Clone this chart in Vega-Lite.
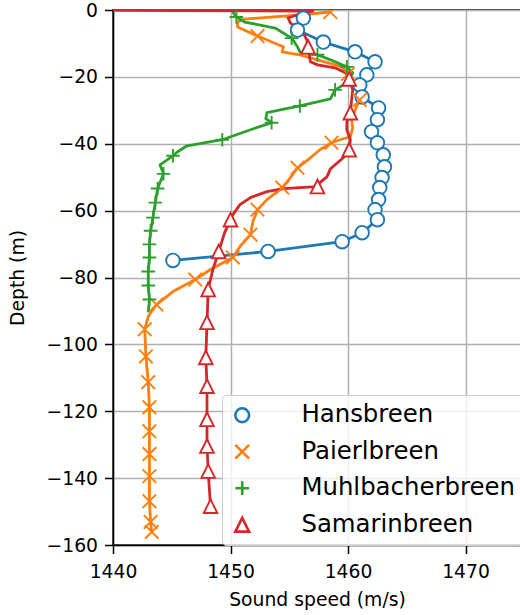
{
  "$schema": "https://vega.github.io/schema/vega-lite/v6.json",
  "width": 408,
  "height": 535,
  "autosize": {"type": "none"},
  "padding": {"left": 113, "top": 10, "right": 0, "bottom": 70},
  "background": "white",
  "config": {
    "font": "DejaVu Sans",
    "view": {"stroke": "black", "strokeWidth": 1.5},
    "axis": {
      "grid": true, "gridColor": "#b0b0b0", "gridWidth": 1.5,
      "domainColor": "black", "domainWidth": 1.5,
      "tickColor": "black", "tickWidth": 1.5, "tickSize": 8.5,
      "labelFont": "DejaVu Sans", "labelFontSize": 18.75, "labelColor": "black",
      "titleFont": "DejaVu Sans", "titleFontSize": 18.75, "titleFontWeight": "normal", "titleColor": "black",
      "labelFlush": false
    },
    "legend": {"labelFont": "DejaVu Sans"}
  },
  "datasets": {
    "profiles": [
      {"glacier": "Hansbreen", "speed": 1456.2, "depth": -2.4},
      {"glacier": "Hansbreen", "speed": 1455.7, "depth": -6.0},
      {"glacier": "Hansbreen", "speed": 1457.9, "depth": -9.6},
      {"glacier": "Hansbreen", "speed": 1460.6, "depth": -12.5},
      {"glacier": "Hansbreen", "speed": 1462.3, "depth": -15.5},
      {"glacier": "Hansbreen", "speed": 1461.6, "depth": -19.4},
      {"glacier": "Hansbreen", "speed": 1461.0, "depth": -22.4},
      {"glacier": "Hansbreen", "speed": 1461.2, "depth": -26.0},
      {"glacier": "Hansbreen", "speed": 1462.6, "depth": -29.3},
      {"glacier": "Hansbreen", "speed": 1462.5, "depth": -32.8},
      {"glacier": "Hansbreen", "speed": 1462.0, "depth": -36.4},
      {"glacier": "Hansbreen", "speed": 1462.5, "depth": -39.7},
      {"glacier": "Hansbreen", "speed": 1463.0, "depth": -43.3},
      {"glacier": "Hansbreen", "speed": 1463.1, "depth": -46.9},
      {"glacier": "Hansbreen", "speed": 1462.9, "depth": -50.1},
      {"glacier": "Hansbreen", "speed": 1462.7, "depth": -53.1},
      {"glacier": "Hansbreen", "speed": 1462.6, "depth": -56.7},
      {"glacier": "Hansbreen", "speed": 1462.3, "depth": -59.7},
      {"glacier": "Hansbreen", "speed": 1462.5, "depth": -62.7},
      {"glacier": "Hansbreen", "speed": 1461.2, "depth": -66.6},
      {"glacier": "Hansbreen", "speed": 1459.5, "depth": -69.3},
      {"glacier": "Hansbreen", "speed": 1453.2, "depth": -72.2},
      {"glacier": "Hansbreen", "speed": 1445.1, "depth": -74.9},

      {"glacier": "Paierlbreen", "speed": 1458.5, "depth": -0.6},
      {"glacier": "Paierlbreen", "speed": 1455.9, "depth": -1.5},
      {"glacier": "Paierlbreen", "speed": 1451.2, "depth": -2.7},
      {"glacier": "Paierlbreen", "speed": 1450.6, "depth": -3.6},
      {"glacier": "Paierlbreen", "speed": 1450.6, "depth": -5.1},
      {"glacier": "Paierlbreen", "speed": 1452.3, "depth": -7.8},
      {"glacier": "Paierlbreen", "speed": 1454.5, "depth": -11.0},
      {"glacier": "Paierlbreen", "speed": 1454.4, "depth": -12.5},
      {"glacier": "Paierlbreen", "speed": 1455.9, "depth": -13.4},
      {"glacier": "Paierlbreen", "speed": 1457.4, "depth": -14.9},
      {"glacier": "Paierlbreen", "speed": 1459.5, "depth": -17.0},
      {"glacier": "Paierlbreen", "speed": 1460.0, "depth": -19.1},
      {"glacier": "Paierlbreen", "speed": 1460.6, "depth": -21.5},
      {"glacier": "Paierlbreen", "speed": 1460.8, "depth": -24.5},
      {"glacier": "Paierlbreen", "speed": 1461.0, "depth": -26.9},
      {"glacier": "Paierlbreen", "speed": 1460.6, "depth": -29.9},
      {"glacier": "Paierlbreen", "speed": 1460.3, "depth": -32.8},
      {"glacier": "Paierlbreen", "speed": 1460.4, "depth": -35.2},
      {"glacier": "Paierlbreen", "speed": 1460.2, "depth": -37.9},
      {"glacier": "Paierlbreen", "speed": 1459.3, "depth": -38.8},
      {"glacier": "Paierlbreen", "speed": 1458.6, "depth": -39.7},
      {"glacier": "Paierlbreen", "speed": 1457.6, "depth": -41.8},
      {"glacier": "Paierlbreen", "speed": 1456.8, "depth": -44.2},
      {"glacier": "Paierlbreen", "speed": 1455.7, "depth": -47.2},
      {"glacier": "Paierlbreen", "speed": 1455.1, "depth": -50.1},
      {"glacier": "Paierlbreen", "speed": 1454.4, "depth": -53.1},
      {"glacier": "Paierlbreen", "speed": 1453.1, "depth": -56.7},
      {"glacier": "Paierlbreen", "speed": 1452.3, "depth": -59.7},
      {"glacier": "Paierlbreen", "speed": 1451.9, "depth": -63.3},
      {"glacier": "Paierlbreen", "speed": 1451.7, "depth": -67.2},
      {"glacier": "Paierlbreen", "speed": 1450.8, "depth": -70.7},
      {"glacier": "Paierlbreen", "speed": 1450.2, "depth": -74.0},
      {"glacier": "Paierlbreen", "speed": 1449.4, "depth": -75.5},
      {"glacier": "Paierlbreen", "speed": 1448.3, "depth": -77.6},
      {"glacier": "Paierlbreen", "speed": 1447.0, "depth": -80.6},
      {"glacier": "Paierlbreen", "speed": 1445.1, "depth": -84.2},
      {"glacier": "Paierlbreen", "speed": 1443.7, "depth": -88.1},
      {"glacier": "Paierlbreen", "speed": 1443.0, "depth": -91.6},
      {"glacier": "Paierlbreen", "speed": 1442.7, "depth": -95.5},
      {"glacier": "Paierlbreen", "speed": 1442.8, "depth": -103.6},
      {"glacier": "Paierlbreen", "speed": 1443.0, "depth": -111.3},
      {"glacier": "Paierlbreen", "speed": 1443.1, "depth": -118.8},
      {"glacier": "Paierlbreen", "speed": 1443.1, "depth": -126.0},
      {"glacier": "Paierlbreen", "speed": 1443.1, "depth": -132.8},
      {"glacier": "Paierlbreen", "speed": 1443.1, "depth": -139.4},
      {"glacier": "Paierlbreen", "speed": 1443.1, "depth": -146.9},
      {"glacier": "Paierlbreen", "speed": 1443.2, "depth": -153.1},
      {"glacier": "Paierlbreen", "speed": 1443.3, "depth": -156.1},

      {"glacier": "Muhlbacherbreen", "speed": 1450.2, "depth": -0.6},
      {"glacier": "Muhlbacherbreen", "speed": 1450.5, "depth": -2.1},
      {"glacier": "Muhlbacherbreen", "speed": 1451.2, "depth": -3.6},
      {"glacier": "Muhlbacherbreen", "speed": 1453.8, "depth": -5.4},
      {"glacier": "Muhlbacherbreen", "speed": 1455.2, "depth": -8.4},
      {"glacier": "Muhlbacherbreen", "speed": 1455.7, "depth": -11.0},
      {"glacier": "Muhlbacherbreen", "speed": 1455.9, "depth": -12.5},
      {"glacier": "Muhlbacherbreen", "speed": 1457.4, "depth": -13.4},
      {"glacier": "Muhlbacherbreen", "speed": 1458.5, "depth": -14.9},
      {"glacier": "Muhlbacherbreen", "speed": 1459.9, "depth": -17.0},
      {"glacier": "Muhlbacherbreen", "speed": 1460.4, "depth": -18.8},
      {"glacier": "Muhlbacherbreen", "speed": 1460.2, "depth": -20.3},
      {"glacier": "Muhlbacherbreen", "speed": 1459.6, "depth": -22.4},
      {"glacier": "Muhlbacherbreen", "speed": 1458.9, "depth": -23.9},
      {"glacier": "Muhlbacherbreen", "speed": 1458.5, "depth": -26.6},
      {"glacier": "Muhlbacherbreen", "speed": 1455.9, "depth": -28.7},
      {"glacier": "Muhlbacherbreen", "speed": 1453.1, "depth": -30.7},
      {"glacier": "Muhlbacherbreen", "speed": 1453.0, "depth": -32.5},
      {"glacier": "Muhlbacherbreen", "speed": 1453.5, "depth": -33.7},
      {"glacier": "Muhlbacherbreen", "speed": 1451.7, "depth": -35.8},
      {"glacier": "Muhlbacherbreen", "speed": 1449.3, "depth": -38.8},
      {"glacier": "Muhlbacherbreen", "speed": 1446.3, "depth": -40.6},
      {"glacier": "Muhlbacherbreen", "speed": 1445.5, "depth": -42.4},
      {"glacier": "Muhlbacherbreen", "speed": 1445.1, "depth": -43.6},
      {"glacier": "Muhlbacherbreen", "speed": 1444.0, "depth": -46.3},
      {"glacier": "Muhlbacherbreen", "speed": 1444.3, "depth": -49.0},
      {"glacier": "Muhlbacherbreen", "speed": 1443.8, "depth": -53.4},
      {"glacier": "Muhlbacherbreen", "speed": 1443.6, "depth": -57.6},
      {"glacier": "Muhlbacherbreen", "speed": 1443.4, "depth": -62.1},
      {"glacier": "Muhlbacherbreen", "speed": 1443.2, "depth": -66.0},
      {"glacier": "Muhlbacherbreen", "speed": 1443.1, "depth": -70.1},
      {"glacier": "Muhlbacherbreen", "speed": 1443.1, "depth": -74.0},
      {"glacier": "Muhlbacherbreen", "speed": 1443.0, "depth": -78.2},
      {"glacier": "Muhlbacherbreen", "speed": 1443.0, "depth": -82.4},
      {"glacier": "Muhlbacherbreen", "speed": 1443.1, "depth": -86.6},
      {"glacier": "Muhlbacherbreen", "speed": 1443.0, "depth": -90.4},

      {"glacier": "Samarinbreen", "speed": 1430.0, "depth": 0.0},
      {"glacier": "Samarinbreen", "speed": 1457.0, "depth": -0.3},
      {"glacier": "Samarinbreen", "speed": 1455.9, "depth": -1.2},
      {"glacier": "Samarinbreen", "speed": 1454.9, "depth": -2.4},
      {"glacier": "Samarinbreen", "speed": 1455.1, "depth": -3.9},
      {"glacier": "Samarinbreen", "speed": 1455.7, "depth": -5.4},
      {"glacier": "Samarinbreen", "speed": 1456.2, "depth": -6.9},
      {"glacier": "Samarinbreen", "speed": 1456.5, "depth": -9.0},
      {"glacier": "Samarinbreen", "speed": 1456.6, "depth": -11.0},
      {"glacier": "Samarinbreen", "speed": 1456.7, "depth": -13.4},
      {"glacier": "Samarinbreen", "speed": 1456.8, "depth": -15.5},
      {"glacier": "Samarinbreen", "speed": 1457.4, "depth": -16.4},
      {"glacier": "Samarinbreen", "speed": 1458.9, "depth": -17.3},
      {"glacier": "Samarinbreen", "speed": 1459.8, "depth": -18.8},
      {"glacier": "Samarinbreen", "speed": 1460.1, "depth": -20.6},
      {"glacier": "Samarinbreen", "speed": 1460.4, "depth": -23.9},
      {"glacier": "Samarinbreen", "speed": 1460.3, "depth": -26.9},
      {"glacier": "Samarinbreen", "speed": 1460.2, "depth": -30.7},
      {"glacier": "Samarinbreen", "speed": 1459.9, "depth": -33.4},
      {"glacier": "Samarinbreen", "speed": 1459.9, "depth": -35.8},
      {"glacier": "Samarinbreen", "speed": 1460.2, "depth": -38.8},
      {"glacier": "Samarinbreen", "speed": 1460.1, "depth": -41.8},
      {"glacier": "Samarinbreen", "speed": 1459.6, "depth": -44.2},
      {"glacier": "Samarinbreen", "speed": 1459.1, "depth": -45.7},
      {"glacier": "Samarinbreen", "speed": 1458.5, "depth": -47.5},
      {"glacier": "Samarinbreen", "speed": 1458.2, "depth": -49.9},
      {"glacier": "Samarinbreen", "speed": 1457.6, "depth": -51.6},
      {"glacier": "Samarinbreen", "speed": 1457.4, "depth": -52.8},
      {"glacier": "Samarinbreen", "speed": 1455.9, "depth": -53.1},
      {"glacier": "Samarinbreen", "speed": 1454.5, "depth": -53.4},
      {"glacier": "Samarinbreen", "speed": 1453.1, "depth": -54.3},
      {"glacier": "Samarinbreen", "speed": 1451.7, "depth": -56.1},
      {"glacier": "Samarinbreen", "speed": 1450.8, "depth": -58.2},
      {"glacier": "Samarinbreen", "speed": 1450.2, "depth": -61.2},
      {"glacier": "Samarinbreen", "speed": 1450.0, "depth": -62.7},
      {"glacier": "Samarinbreen", "speed": 1449.5, "depth": -66.6},
      {"glacier": "Samarinbreen", "speed": 1449.0, "depth": -72.2},
      {"glacier": "Samarinbreen", "speed": 1448.5, "depth": -77.6},
      {"glacier": "Samarinbreen", "speed": 1448.1, "depth": -83.6},
      {"glacier": "Samarinbreen", "speed": 1448.0, "depth": -93.4},
      {"glacier": "Samarinbreen", "speed": 1447.9, "depth": -103.9},
      {"glacier": "Samarinbreen", "speed": 1448.0, "depth": -112.5},
      {"glacier": "Samarinbreen", "speed": 1448.0, "depth": -122.4},
      {"glacier": "Samarinbreen", "speed": 1448.0, "depth": -130.4},
      {"glacier": "Samarinbreen", "speed": 1448.1, "depth": -137.9},
      {"glacier": "Samarinbreen", "speed": 1448.3, "depth": -148.4},
      {"glacier": "Samarinbreen", "speed": 1448.3, "depth": -150.7}
    ],
    "markers": [
      {"glacier": "Hansbreen", "speed": 1456.2, "depth": -2.4},
      {"glacier": "Hansbreen", "speed": 1455.7, "depth": -6.0},
      {"glacier": "Hansbreen", "speed": 1457.9, "depth": -9.6},
      {"glacier": "Hansbreen", "speed": 1460.6, "depth": -12.5},
      {"glacier": "Hansbreen", "speed": 1462.3, "depth": -15.5},
      {"glacier": "Hansbreen", "speed": 1461.6, "depth": -19.4},
      {"glacier": "Hansbreen", "speed": 1461.0, "depth": -22.4},
      {"glacier": "Hansbreen", "speed": 1461.2, "depth": -26.0},
      {"glacier": "Hansbreen", "speed": 1462.6, "depth": -29.3},
      {"glacier": "Hansbreen", "speed": 1462.5, "depth": -32.8},
      {"glacier": "Hansbreen", "speed": 1462.0, "depth": -36.4},
      {"glacier": "Hansbreen", "speed": 1462.5, "depth": -39.7},
      {"glacier": "Hansbreen", "speed": 1463.0, "depth": -43.3},
      {"glacier": "Hansbreen", "speed": 1463.1, "depth": -46.9},
      {"glacier": "Hansbreen", "speed": 1462.9, "depth": -50.1},
      {"glacier": "Hansbreen", "speed": 1462.7, "depth": -53.1},
      {"glacier": "Hansbreen", "speed": 1462.6, "depth": -56.7},
      {"glacier": "Hansbreen", "speed": 1462.3, "depth": -59.7},
      {"glacier": "Hansbreen", "speed": 1462.5, "depth": -62.7},
      {"glacier": "Hansbreen", "speed": 1461.2, "depth": -66.6},
      {"glacier": "Hansbreen", "speed": 1459.5, "depth": -69.3},
      {"glacier": "Hansbreen", "speed": 1453.2, "depth": -72.2},
      {"glacier": "Hansbreen", "speed": 1445.1, "depth": -74.9},

      {"glacier": "Paierlbreen", "speed": 1458.5, "depth": -0.6},
      {"glacier": "Paierlbreen", "speed": 1452.3, "depth": -7.8},
      {"glacier": "Paierlbreen", "speed": 1460.0, "depth": -19.1},
      {"glacier": "Paierlbreen", "speed": 1461.0, "depth": -26.9},
      {"glacier": "Paierlbreen", "speed": 1458.6, "depth": -39.7},
      {"glacier": "Paierlbreen", "speed": 1455.7, "depth": -47.2},
      {"glacier": "Paierlbreen", "speed": 1454.4, "depth": -53.1},
      {"glacier": "Paierlbreen", "speed": 1452.3, "depth": -59.7},
      {"glacier": "Paierlbreen", "speed": 1451.7, "depth": -67.2},
      {"glacier": "Paierlbreen", "speed": 1450.2, "depth": -74.0},
      {"glacier": "Paierlbreen", "speed": 1447.0, "depth": -80.6},
      {"glacier": "Paierlbreen", "speed": 1443.7, "depth": -88.1},
      {"glacier": "Paierlbreen", "speed": 1442.7, "depth": -95.5},
      {"glacier": "Paierlbreen", "speed": 1442.8, "depth": -103.6},
      {"glacier": "Paierlbreen", "speed": 1443.0, "depth": -111.3},
      {"glacier": "Paierlbreen", "speed": 1443.1, "depth": -118.8},
      {"glacier": "Paierlbreen", "speed": 1443.1, "depth": -126.0},
      {"glacier": "Paierlbreen", "speed": 1443.1, "depth": -132.8},
      {"glacier": "Paierlbreen", "speed": 1443.1, "depth": -139.4},
      {"glacier": "Paierlbreen", "speed": 1443.1, "depth": -146.9},
      {"glacier": "Paierlbreen", "speed": 1443.2, "depth": -153.1},
      {"glacier": "Paierlbreen", "speed": 1443.3, "depth": -156.1},

      {"glacier": "Muhlbacherbreen", "speed": 1450.5, "depth": -2.1},
      {"glacier": "Muhlbacherbreen", "speed": 1455.2, "depth": -8.4},
      {"glacier": "Muhlbacherbreen", "speed": 1457.4, "depth": -13.4},
      {"glacier": "Muhlbacherbreen", "speed": 1459.9, "depth": -17.0},
      {"glacier": "Muhlbacherbreen", "speed": 1458.9, "depth": -23.9},
      {"glacier": "Muhlbacherbreen", "speed": 1455.9, "depth": -28.7},
      {"glacier": "Muhlbacherbreen", "speed": 1453.5, "depth": -33.7},
      {"glacier": "Muhlbacherbreen", "speed": 1449.3, "depth": -38.8},
      {"glacier": "Muhlbacherbreen", "speed": 1445.1, "depth": -43.6},
      {"glacier": "Muhlbacherbreen", "speed": 1444.3, "depth": -49.0},
      {"glacier": "Muhlbacherbreen", "speed": 1443.8, "depth": -53.4},
      {"glacier": "Muhlbacherbreen", "speed": 1443.6, "depth": -57.6},
      {"glacier": "Muhlbacherbreen", "speed": 1443.4, "depth": -62.1},
      {"glacier": "Muhlbacherbreen", "speed": 1443.2, "depth": -66.0},
      {"glacier": "Muhlbacherbreen", "speed": 1443.1, "depth": -70.1},
      {"glacier": "Muhlbacherbreen", "speed": 1443.1, "depth": -74.0},
      {"glacier": "Muhlbacherbreen", "speed": 1443.0, "depth": -78.2},
      {"glacier": "Muhlbacherbreen", "speed": 1443.0, "depth": -82.4},
      {"glacier": "Muhlbacherbreen", "speed": 1443.1, "depth": -86.6},

      {"glacier": "Samarinbreen", "speed": 1456.6, "depth": -11.0},
      {"glacier": "Samarinbreen", "speed": 1460.1, "depth": -20.6},
      {"glacier": "Samarinbreen", "speed": 1460.2, "depth": -30.7},
      {"glacier": "Samarinbreen", "speed": 1460.1, "depth": -41.8},
      {"glacier": "Samarinbreen", "speed": 1457.4, "depth": -52.8},
      {"glacier": "Samarinbreen", "speed": 1450.0, "depth": -62.7},
      {"glacier": "Samarinbreen", "speed": 1449.0, "depth": -72.2},
      {"glacier": "Samarinbreen", "speed": 1448.1, "depth": -83.6},
      {"glacier": "Samarinbreen", "speed": 1448.0, "depth": -93.4},
      {"glacier": "Samarinbreen", "speed": 1447.9, "depth": -103.9},
      {"glacier": "Samarinbreen", "speed": 1448.0, "depth": -112.5},
      {"glacier": "Samarinbreen", "speed": 1448.0, "depth": -122.4},
      {"glacier": "Samarinbreen", "speed": 1448.0, "depth": -130.4},
      {"glacier": "Samarinbreen", "speed": 1448.1, "depth": -137.9},
      {"glacier": "Samarinbreen", "speed": 1448.3, "depth": -148.4}
    ]
  },
  "layer": [
    {
      "data": {"name": "profiles"},
      "mark": {"type": "line", "strokeWidth": 2.8, "clip": true, "strokeJoin": "round"},
      "encoding": {
        "x": {"field": "speed", "type": "quantitative", "scale": {"domain": [1440, 1474.72], "nice": false, "zero": false},
          "axis": {"title": "Sound speed (m/s)", "values": [1440, 1450, 1460, 1470], "format": "d", "labelPadding": 9, "titlePadding": 9}},
        "y": {"field": "depth", "type": "quantitative", "scale": {"domain": [-160, 0], "nice": false, "zero": false},
          "axis": {"title": "Depth (m)", "values": [0, -20, -40, -60, -80, -100, -120, -140, -160], "format": "d", "labelPadding": 7, "titlePadding": 19}},
        "color": {"field": "glacier", "type": "nominal",
          "scale": {"domain": ["Hansbreen", "Paierlbreen", "Muhlbacherbreen", "Samarinbreen"], "range": ["#1f77b4", "#ff7f0e", "#2ca02c", "#d62728"]},
          "legend": {
            "title": null, "orient": "none", "legendX": 109, "legendY": 385,
            "padding": 8, "labelFontSize": 24.4, "labelColor": "black", "labelOffset": 47, "labelLimit": 400,
            "rowPadding": 10.5, "fillColor": "rgba(255,255,255,0.8)", "strokeColor": "#cccccc", "cornerRadius": 4,
            "symbolSize": 190, "symbolStrokeWidth": 2.6
          }},
        "order": {"field": "depth", "sort": "descending"}
      }
    },
    {
      "data": {"name": "markers"},
      "mark": {"type": "point", "filled": false, "fill": "white", "opacity": 1, "strokeWidth": 1.9, "size": 185, "clip": true},
      "encoding": {
        "x": {"field": "speed", "type": "quantitative"},
        "y": {"field": "depth", "type": "quantitative"},
        "stroke": {"field": "glacier", "type": "nominal",
          "scale": {"domain": ["Hansbreen", "Paierlbreen", "Muhlbacherbreen", "Samarinbreen"], "range": ["#1f77b4", "#ff7f0e", "#2ca02c", "#d62728"]},
          "legend": null},
        "shape": {"field": "glacier", "type": "nominal",
          "scale": {"domain": ["Hansbreen", "Paierlbreen", "Muhlbacherbreen", "Samarinbreen"], "range": ["M1,0A1,1 0 1,1 -1,0A1,1 0 1,1 1,0Z", "M-1,-1L1,1M-1,1L1,-1", "M-1,0H1M0,-1V1", "M0,-1L1,1L-1,1Z"]},
          "legend": null}
      }
    }
  ]
}
